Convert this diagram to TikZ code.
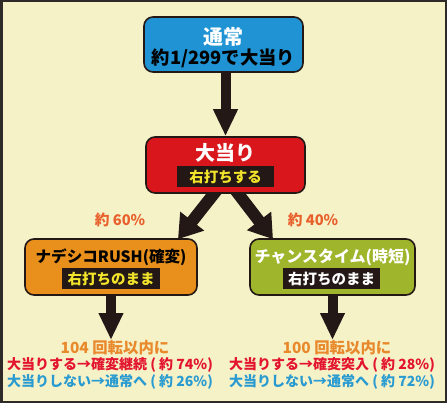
\documentclass[tikz,border=0pt]{standalone}
\usepackage{fontspec}
\newfontfamily\jp{Noto Sans CJK JP}
\usetikzlibrary{arrows.meta}
\pgfdeclarelayer{bgfill}
\pgfdeclarelayer{arrowlayer}
\pgfsetlayers{bgfill,arrowlayer,main}
\definecolor{bgc}{HTML}{F6F2C8}
\definecolor{framec}{HTML}{2E2A27}
\definecolor{bluec}{HTML}{1F93D3}
\definecolor{redc}{HTML}{D8161C}
\definecolor{orangec}{HTML}{E8901B}
\definecolor{greenc}{HTML}{9FB52B}
\definecolor{arrowc}{HTML}{231815}
\definecolor{yellowc}{HTML}{F2E42B}
\definecolor{pctc}{HTML}{E8602C}
\definecolor{turnc}{HTML}{E8892C}
\definecolor{hitc}{HTML}{E3142D}
\definecolor{missc}{HTML}{2A9BD1}
\begin{document}
\begin{tikzpicture}[x=1pt,y=-1pt,
  box/.style={draw=arrowc, line width=1.6pt, rounded corners=9pt, inner sep=0pt, minimum height=55pt},
  ttl/.style={inner sep=0pt, font=\jp\bfseries\fontsize{20}{20}\selectfont},
  sub/.style={inner sep=0pt, font=\jp\bfseries\fontsize{18.3}{18.3}\selectfont},
  nm/.style={inner sep=0pt, font=\jp\bfseries\fontsize{15.6}{15.6}\selectfont},
  tag/.style={fill=arrowc, inner sep=0pt, minimum width=97pt, minimum height=21pt, font=\jp\bfseries\fontsize{14.5}{14.5}\selectfont},
  pct/.style={inner sep=0pt, text=pctc, font=\jp\bfseries\fontsize{14.7}{14.7}\selectfont},
  turn/.style={inner sep=0pt, text=turnc, font=\jp\bfseries\fontsize{15.4}{15.4}\selectfont},
  res/.style={inner sep=0pt, anchor=west, font=\jp\bfseries\fontsize{14}{14}\selectfont},
  bigarrow/.style={draw=arrowc, line width=10pt, -{Triangle[width=23pt,length=27pt,fill=arrowc]}},
  diagarrow/.style={draw=arrowc, line width=12pt, -{Triangle[width=29pt,length=23pt,fill=arrowc]}}
]
\useasboundingbox (0,0) rectangle (447,403);
\begin{pgfonlayer}{bgfill}
\fill[bgc] (0,0) rectangle (447,403);
\end{pgfonlayer}
\draw[framec, line width=2.5pt] (1.25,1.25) rectangle (445.75,401.75);

% top node
\node[box, fill=bluec, minimum width=159pt] (top) at (223.5,44.5) {};
\node[ttl, text=white] (topt) at (223.5,37) {通常};
\node[sub, text=black] (tops) at (223.5,58.5) {約1/299で大当り};

% middle node
\node[box, fill=redc, minimum width=159pt, minimum height=56pt] (mid) at (225.5,165) {};
\node[ttl, text=white] (midt) at (225.5,153) {大当り};
\node[tag, text=yellowc] (midl) at (225.5,176.5) {右打ちする};

% left node
\node[box, fill=orangec, minimum width=172pt, minimum height=56pt] (lft) at (111,267) {};
\node[nm, text=black] (lftt) at (111,257) {ナデシコRUSH(確変)};
\node[tag, text=yellowc, minimum width=98pt] (lftl) at (111,279) {右打ちのまま};

% right node
\node[box, fill=greenc, minimum width=165pt, minimum height=56pt] (rgt) at (332.5,267) {};
\node[nm, text=white, font=\jp\bfseries\fontsize{16}{16}\selectfont] (rgtt) at (332.5,257) {チャンスタイム(時短)};
\node[tag, text=white] (rgtl) at (331.5,279) {右打ちのまま};

% percentages
\node[pct] (p60) at (120,220) {約 60\%};
\node[pct] (p40) at (313,220) {約 40\%};

% arrows
\begin{pgfonlayer}{arrowlayer}
\draw[bigarrow] ([yshift=3pt]top.south -| mid.north) -- (mid.north);
\draw[diagarrow] ([xshift=-3.8pt,yshift=10pt]mid.south) -- ([xshift=67pt,yshift=-1pt]lft.north);
\draw[diagarrow] ([xshift=5.1pt,yshift=10pt]mid.south) -- ([xshift=-59.5pt,yshift=-1pt]rgt.north);

\coordinate (lend) at (111,340);
\coordinate (rend) at (332.5,340);
\draw[bigarrow] ([yshift=3pt]lft.south) -- (lend);
\draw[bigarrow] ([yshift=3pt]rgt.south) -- (rend);
\end{pgfonlayer}

% bottom texts
\node[turn] (lturn) at (115,347.5) {104 回転以内に};
\node[res, text=hitc] (lhit) at (7,365) {大当りする→確変継続 ( 約 74\%)};
\node[res, text=missc] (lmiss) at (7,382) {大当りしない→通常へ ( 約 26\%)};

\node[turn] (rturn) at (337,347.5) {100 回転以内に};
\node[res, text=hitc] (rhit) at (229,365) {大当りする→確変突入 ( 約 28\%)};
\node[res, text=missc] (rmiss) at (229,382) {大当りしない→通常へ ( 約 72\%)};
\end{tikzpicture}
\end{document}
